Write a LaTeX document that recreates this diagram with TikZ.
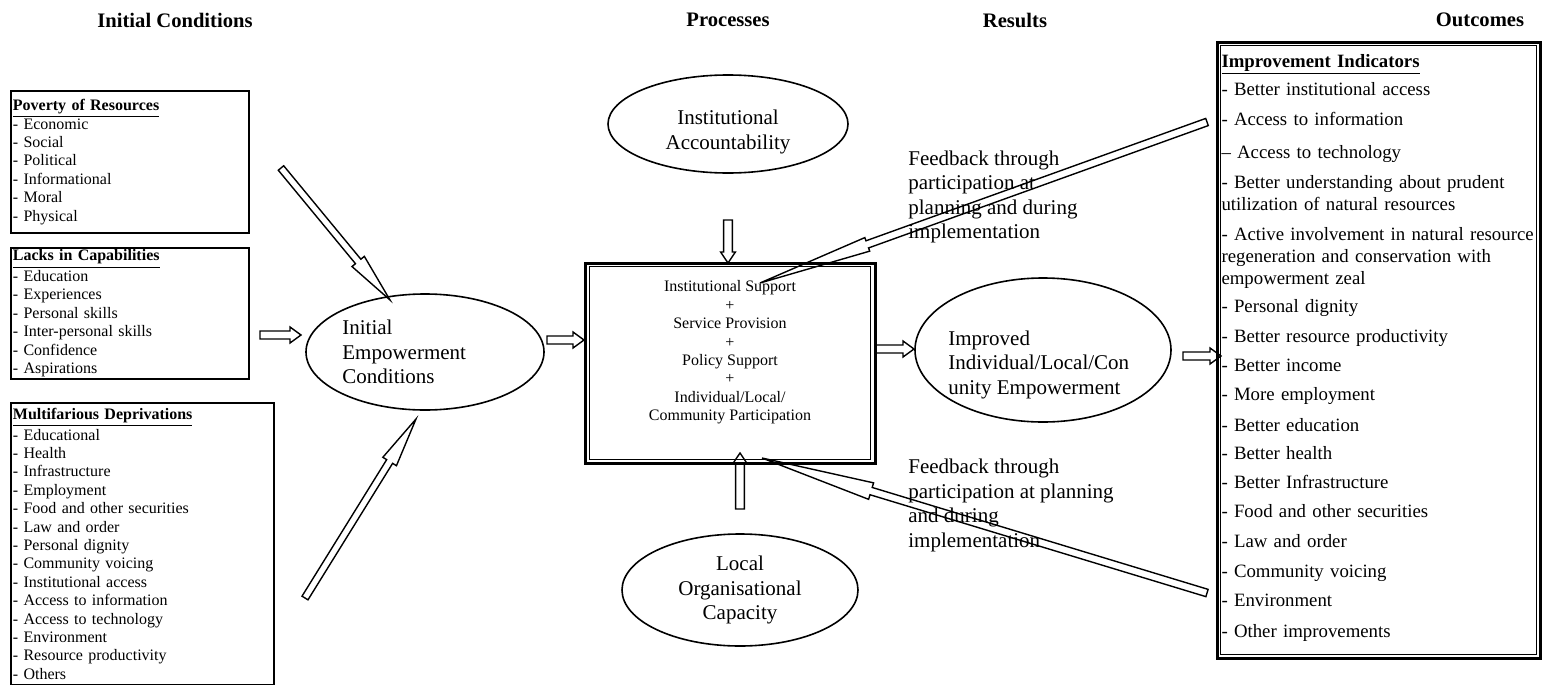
\documentclass[tikz,border=0pt]{standalone}
\usepackage{fontspec}
\setmainfont{Liberation Serif}
\usetikzlibrary{shapes.geometric,calc}

% hollow block arrow: tail, tip, half shaft, half head, head length
\newcommand{\blockarrow}[5]{%
  \coordinate (hb) at ($(#2)!#5!(#1)$);
  \draw[blk] ($(#1)!#3!90:(#2)$) -- ($(hb)!#3!90:(#2)$) -- ($(hb)!#4!90:(#2)$) -- (#2)
    -- ($(hb)!#4!-90:(#2)$) -- ($(hb)!#3!-90:(#2)$) -- ($(#1)!#3!-90:(#2)$) -- cycle;
}

\tikzset{
		head/.style={font=\fontsize{10.3}{12}\selectfont\bfseries},
		listbox/.style={draw, line width=0.9pt, anchor=north west, align=left, inner xsep=1pt, inner ysep=0pt, font=\fontsize{8}{9.2}\selectfont},
		oval/.style={draw, ellipse, line width=0.8pt, inner sep=0pt},
		big/.style={font=\fontsize{10.5}{12.25}\selectfont, inner sep=0pt},
		blk/.style={line width=0.7pt, line join=miter}
	}

\begin{document}
\begin{tikzpicture}[x=0.5pt, y=-0.5pt]

\fill[white] (0,0) rectangle (1542,685);
\useasboundingbox (0,0) rectangle (1542,685);

% column heads
\node[head] (hinit) at (175,20) {Initial Conditions};
\node[head] (hproc) at (728,20) {Processes};
\node[head] (hres) at (1015,20) {Results};
\node[head] (hout) at (1480,20) {Outcomes};

% initial conditions
\node[listbox, text width=117pt, minimum height=71pt] (pov) at (10,90) {\textbf{\underline{Poverty of Resources}}\\- Economic\\- Social\\- Political\\- Informational\\- Moral\\- Physical};
\node[listbox, text width=117pt, minimum height=65.5pt] (cap) at (10,247) {\textbf{\underline{Lacks in Capabilities}}\\- Education\\- Experiences\\- Personal skills\\- Inter-personal skills\\- Confidence\\- Aspirations};
\node[listbox, text width=129.5pt, minimum height=141pt] (dep) at (10,402) {\textbf{\underline{Multifarious Deprivations}}\\- Educational\\- Health\\- Infrastructure\\- Employment\\- Food and other securities\\- Law and order\\- Personal dignity\\- Community voicing\\- Institutional access\\- Access to information\\- Access to technology\\- Environment\\- Resource productivity\\- Others};

\node[oval, minimum width=119pt, minimum height=58pt] (eic) at (425,352) {};
\node[big, align=left, anchor=west] (eictxt) at (342,352) {Initial\\Empowerment\\Conditions};

% processes
\node[oval, minimum width=120pt, minimum height=49pt] (iacc) at (728,124) {};
\node[big, align=center] (iacctxt) at (728,132) {Institutional\\Accountability};

\node[draw, line width=1.5pt, minimum width=145pt, minimum height=100pt] (proc) at (730,363) {};
\draw[line width=0.7pt] ([shift={(6,5)}]proc.north west) rectangle ([shift={(-6,-5)}]proc.south east);
\node[font=\fontsize{8}{9.2}\selectfont, align=center] (proctxt) at (730,352.5) {Institutional Support\\+\\Service Provision\\+\\Policy Support\\+\\Individual/Local/\\Community Participation};

\node[oval, minimum width=118pt, minimum height=56pt] (loc) at (740,590) {};
\node[big, align=center] (loctxt) at (740,590) {Local\\Organisational\\Capacity};

% results
\node[oval, minimum width=128pt, minimum height=72pt] (res) at (1043,350) {};
\node[big, align=left, anchor=west] (restxt) at (948,364.5) {Improved\\Individual/Local/Con\\unity Empowerment};

\node[big, align=left, anchor=west] (fbup) at (908,197) {Feedback through\\participation at\\planning and during\\implementation};
\node[big, align=left, anchor=west] (fbdn) at (908,505.5) {Feedback through\\participation at planning\\and during\\implementation};

% outcomes
\node[draw, line width=1.5pt, minimum width=161.5pt, minimum height=308pt] (outc) at (1378.5,350) {};
\draw[line width=0.7pt] ([shift={(5,5)}]outc.north west) rectangle ([shift={(-5,-5)}]outc.south east);
\node[font=\fontsize{9.4}{11}\selectfont, align=left, text width=159pt, inner sep=0pt] (outtxt) at (1380.5,347.5) {\textbf{\underline{Improvement Indicators}}\\[3pt]
- Better institutional access\\[4pt]
- Access to information\\[5.5pt]
-- Access to technology\\[4pt]
- Better understanding about prudent\\utilization of natural resources\\[4pt]
- Active involvement in natural resource\\regeneration and conservation with\\empowerment zeal\\[3pt]
- Personal dignity\\[4pt]
- Better resource productivity\\[3.5pt]
- Better income\\[3.5pt]
- More employment\\[4.5pt]
- Better education\\[3pt]
- Better health\\[3.5pt]
- Better Infrastructure\\[3.5pt]
- Food and other securities\\[4pt]
- Law and order\\[4pt]
- Community voicing\\[3.5pt]
- Environment\\[4.5pt]
- Other improvements};

% arrow ends
\coordinate (pov-out) at (281,168);
\coordinate (eic-in1) at (390,300);
\coordinate (cap-out) at (260,335);
\coordinate (eic-in2) at (301,335);
\coordinate (dep-out) at (305,598);
\coordinate (eic-in3) at (416,419);
\coordinate (eic-out) at (547,340);
\coordinate (proc-in1) at (584,340);
\coordinate (iacc-out) at (728,220);
\coordinate (proc-in2) at (728,263);
\coordinate (loc-out) at (740,509);
\coordinate (proc-in3) at (740,453);
\coordinate (proc-out) at (876,349);
\coordinate (res-in) at (914,349);
\coordinate (res-out) at (1183,356);
\coordinate (outc-in) at (1221,356);
\coordinate (outc-fb1) at (1207,122);
\coordinate (proc-fb1) at (760,283);
\coordinate (outc-fb2) at (1207,593);
\coordinate (proc-fb2) at (762,458);

\blockarrow{pov-out}{eic-in1}{1.75pt}{4pt}{25pt}
\blockarrow{cap-out}{eic-in2}{2pt}{4pt}{5.5pt}
\blockarrow{dep-out}{eic-in3}{1.75pt}{4pt}{25pt}
\blockarrow{eic-out}{proc-in1}{2pt}{4pt}{5.5pt}
\blockarrow{iacc-out}{proc-in2}{2.2pt}{3.7pt}{5.5pt}
\blockarrow{loc-out}{proc-in3}{2.2pt}{3.7pt}{5.5pt}
\blockarrow{proc-out}{res-in}{2pt}{4pt}{5.5pt}
\blockarrow{res-out}{outc-in}{2pt}{4pt}{5.5pt}
\blockarrow{outc-fb1}{proc-fb1}{1.9pt}{3.6pt}{57pt}
\blockarrow{outc-fb2}{proc-fb2}{1.9pt}{4.3pt}{57pt}

\end{tikzpicture}
\end{document}
